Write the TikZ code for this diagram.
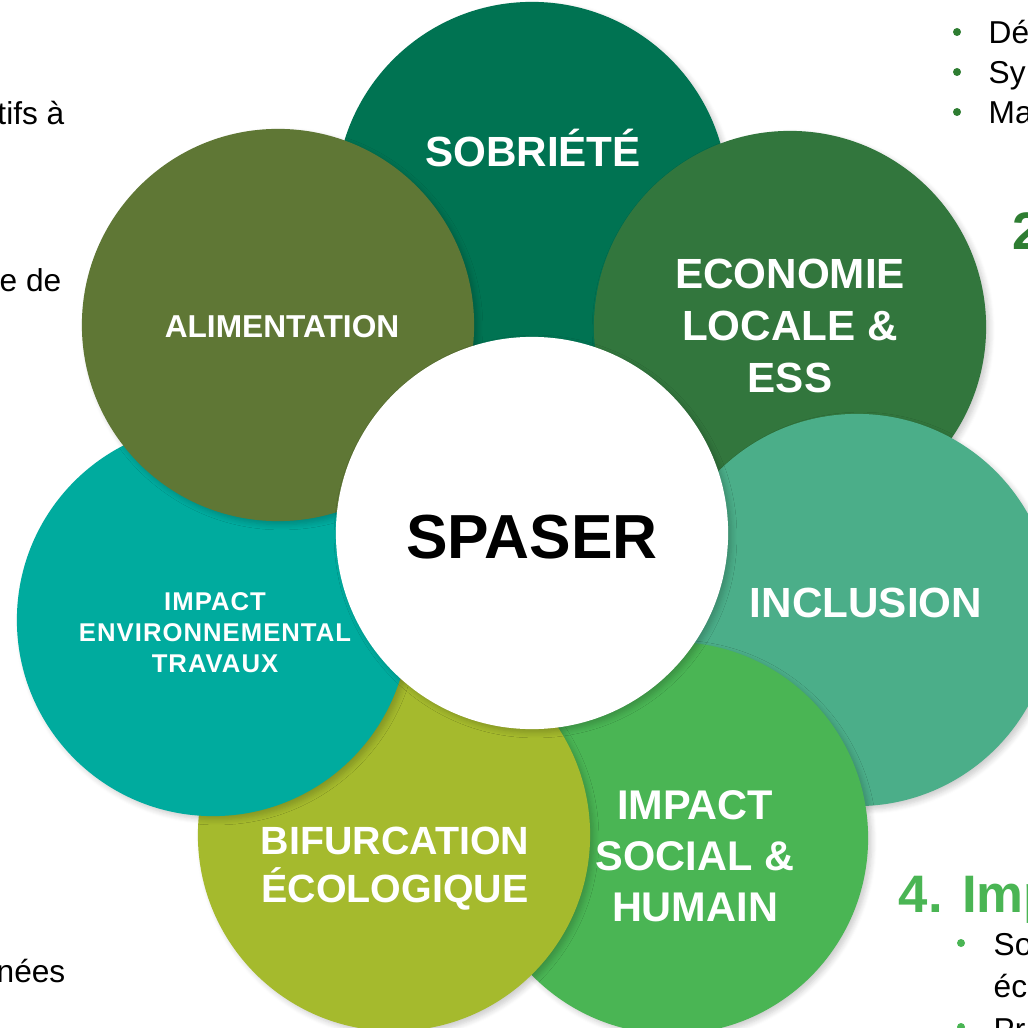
\documentclass[tikz,border=0pt]{standalone}
\usepackage{fontspec}
\setmainfont{Liberation Sans}
\usetikzlibrary{shadows.blur}
\usepackage{xcolor}

\definecolor{sobColor}{RGB}{0,115,82}
\definecolor{ecoColor}{RGB}{50,118,61}
\definecolor{inclColor}{RGB}{75,174,137}
\definecolor{socColor}{RGB}{74,181,84}
\definecolor{bifColor}{RGB}{165,186,45}
\definecolor{envColor}{RGB}{0,171,158}
\definecolor{alimColor}{RGB}{95,119,53}
\definecolor{headDark}{RGB}{46,125,50}
\definecolor{headLight}{RGB}{74,181,84}

\tikzset{
  petal/.style={circle, minimum size=3.92cm, inner sep=0pt,
    blur shadow={shadow xshift=1pt, shadow yshift=-1pt,
      shadow blur steps=6, shadow blur radius=1.5pt, shadow opacity=20}},
  petaltext/.style={text=white, align=center, inner sep=0pt,
    font=\bfseries\fontsize{12}{14.8}\selectfont},
  sidetext/.style={inner sep=0pt, font=\fontsize{9}{10}\selectfont},
  headtext/.style={inner sep=0pt, font=\bfseries\fontsize{15}{18}\selectfont},
}

\begin{document}
\begin{tikzpicture}[x=0.01cm, y=-0.01cm]
    \useasboundingbox (0,0) rectangle (1028,1028);
    \clip (0,0) rectangle (1028,1028);

    % petals, back to front
    \node[petal, fill=sobColor] (sob) at (532,198) {};
    \node[petal, fill=ecoColor] (eco) at (790,327) {};
    \node[petal, fill=inclColor] (incl) at (857,610) {};
    \node[petal, fill=socColor] (soc) at (672,838) {};
    \node[petal, fill=bifColor] (bif) at (394,835) {};
    \node[petal, fill=envColor] (env) at (213,620) {};
    \node[petal, fill=alimColor] (alim) at (278,325) {};
    \node[petal, fill=white] (spaser) at (532,533) {};

    \node[petaltext] (sobTxt) at (533,148) {SOBRIÉTÉ};
    \node[petaltext] (ecoTxt) at (790,326) {ECONOMIE\\LOCALE \&\\ESS};
    \node[petaltext] (inclTxt) at (866,603) {INCLUSION};
    \node[petaltext, font=\bfseries\fontsize{11.8}{14.5}\selectfont] (socTxt) at (695,856) {IMPACT\\SOCIAL \&\\HUMAIN};
    \node[petaltext, font=\bfseries\fontsize{11.2}{13.7}\selectfont] (bifTxt) at (395,869) {BIFURCATION\\ÉCOLOGIQUE};
    \node[petaltext, font=\bfseries\fontsize{7.3}{8.8}\selectfont\addfontfeature{LetterSpace=4}] (envTxt) at (215,633) {IMPACT\\ENVIRONNEMENTAL\\TRAVAUX};
    \node[petaltext, font=\bfseries\fontsize{9}{10}\selectfont] (alimTxt) at (282,327) {ALIMENTATION};
    \node[font=\bfseries\fontsize{17.7}{20}\selectfont, inner sep=0pt] (spaserTxt) at (532,537) {SPASER};

    % slide text around the flower
    \node[sidetext, anchor=base east] (leftA) at (65,125) {tifs à};
    \node[sidetext, anchor=base east] (leftB) at (62,292) {e de};
    \node[sidetext, anchor=base east] (leftC) at (66,982) {nées};

    \fill[headDark] (957,32) circle (4);
    \fill[headDark] (957,72) circle (4);
    \fill[headDark] (957,112) circle (4);
    \node[sidetext, anchor=base west] (topA) at (988,44) {Dé};
    \node[sidetext, anchor=base west] (topB) at (988,84) {Sy};
    \node[sidetext, anchor=base west] (topC) at (988,124) {Ma};

    \node[headtext, text=headDark, anchor=base west] (headTwo) at (1012,250) {2};
    \node[headtext, text=headLight, anchor=base west] (headFour) at (898,912) {4. Imp};

    \fill[headLight] (961,943) circle (4);
    \node[sidetext, anchor=base west] (botA) at (993,955) {So};
    \node[sidetext, anchor=base west] (botB) at (993,997) {éc};
    \fill[headLight] (961,1027) circle (4);
    \node[sidetext, anchor=base west] (botC) at (993,1040) {Pr};
  \end{tikzpicture}
\end{document}
